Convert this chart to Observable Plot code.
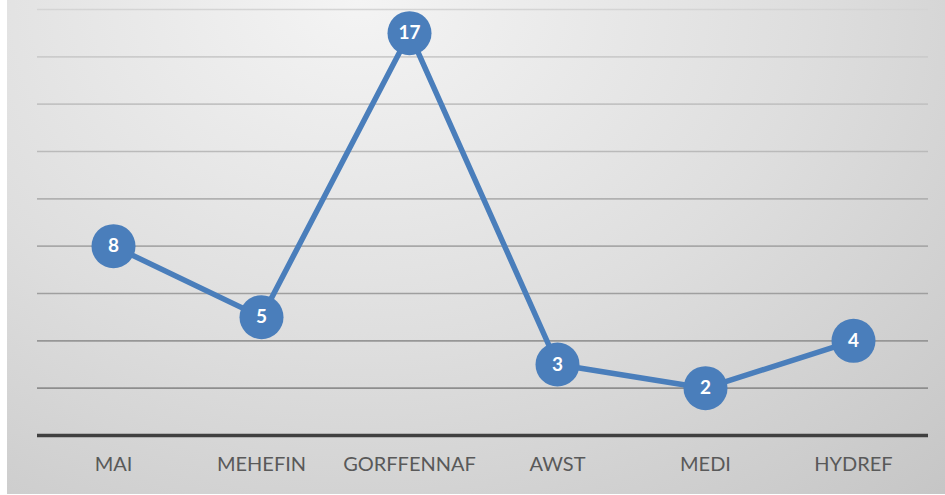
<!DOCTYPE html>
<html>
<head>
<meta charset="utf-8">
<script src="https://cdn.jsdelivr.net/npm/d3@7"></script>
<script src="https://cdn.jsdelivr.net/npm/@observablehq/plot@0.6"></script>
<style>
  html, body { margin: 0; padding: 0; background: #ffffff; }
  #chart svg {
    display: block;
    background:
      linear-gradient(to right, #ffffff 7px, transparent 7px),
      linear-gradient(to top, #ffffff 1px, transparent 1px),
      radial-gradient(ellipse 95% 140% at 38% 0%, #f4f4f4 0%, #dedede 50%, #c4c4c4 100%) !important;
  }
</style>
</head>
<body>
<div id="chart"></div>
<script>
const months = ["MAI", "MEHEFIN", "GORFFENNAF", "AWST", "MEDI", "HYDREF"];
const values = [8, 5, 17, 3, 2, 4];
const gridTicks = [2, 4, 6, 8, 10, 12, 14, 16, 18];

const data = months.map((m, i) => ({month: m, value: values[i]}));
const blue = "#4a7ebb";

const chart = Plot.plot({
  width: 945,
  height: 495,
  marginLeft: 37,
  marginRight: 17,
  marginTop: 9,
  marginBottom: 60,
  style: {fontFamily: "Lato, sans-serif"},
  x: {type: "point", domain: months, padding: 0.5, axis: null},
  y: {domain: [0, 18], axis: null},
  marks: [
    Plot.ruleY(gridTicks, {stroke: "url(#gridGrad)", strokeWidth: 1.6}),
    Plot.ruleY([0], {stroke: "#404040", strokeWidth: 3.5}),
    Plot.axisX({tickSize: 0, tickPadding: 21, fontSize: 20, color: "#595959", label: null}),
    Plot.line(data, {x: "month", y: "value", stroke: blue, strokeWidth: 5.5}),
    Plot.dot(data, {x: "month", y: "value", r: 22, fill: blue, stroke: "none"}),
    Plot.text(data, {x: "month", y: "value", text: d => String(d.value), fill: "white", fontSize: 19, fontWeight: "bold"})
  ]
});

// vertical gradient for gridlines (lighter at top, darker toward bottom)
const defs = d3.select(chart).insert("defs", ":first-child");
const g = defs.append("linearGradient")
  .attr("id", "gridGrad")
  .attr("gradientUnits", "userSpaceOnUse")
  .attr("x1", 0).attr("y1", 0).attr("x2", 0).attr("y2", 495);
g.append("stop").attr("offset", "0%").attr("stop-color", "#d6d6d6");
g.append("stop").attr("offset", "80%").attr("stop-color", "#8c8c8c");
g.append("stop").attr("offset", "100%").attr("stop-color", "#808080");

chart.style.setProperty("background",
  "linear-gradient(to right, #ffffff 7px, transparent 7px), linear-gradient(to top, #ffffff 1px, transparent 1px), radial-gradient(ellipse 95% 140% at 38% 0%, #f4f4f4 0%, #dedede 50%, #c4c4c4 100%)");

document.getElementById("chart").appendChild(chart);
</script>
</body>
</html>
